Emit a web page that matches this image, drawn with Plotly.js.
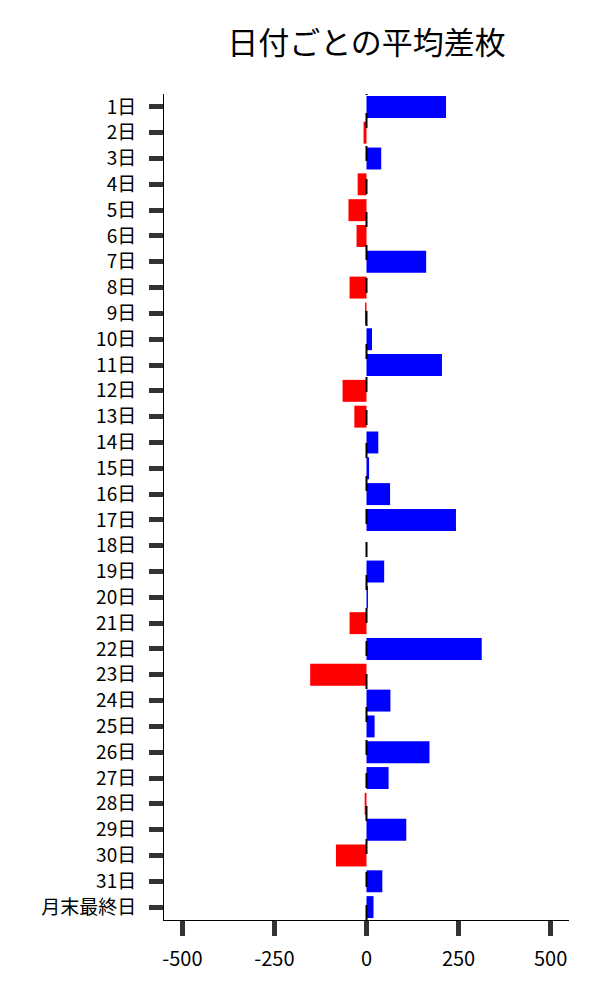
<!DOCTYPE html>
<html>
<head>
<meta charset="utf-8">
<script src="https://cdn.plot.ly/plotly-3.0.1.min.js"></script>
<style>html,body{margin:0;padding:0;background:#fff;}#chart{width:600px;height:1000px;}</style>
</head>
<body>
<div id="chart"></div>
<script>
const categories = ["1日","2日","3日","4日","5日","6日","7日","8日","9日","10日","11日","12日","13日","14日","15日","16日","17日","18日","19日","20日","21日","22日","23日","24日","25日","26日","27日","28日","29日","30日","31日","月末最終日"];
const avgDiff = [216,-8,40,-24,-49,-27,162,-46,-4,15,205,-65,-33,32,7,64,243,0,48,4,-46,313,-153,65,22,171,60,-5,108,-83,43,19];
const xTickVals = [-500,-250,0,250,500];
const xTickText = ["-500","-250","0","250","500"];

const barColors = avgDiff.map(v => v >= 0 ? "#0000ff" : "#ff0000");
const font = "Noto Sans CJK JP, Noto Sans, sans-serif";

const trace = {
  type: "bar",
  orientation: "h",
  x: avgDiff,
  y: categories,
  marker: {color: barColors, line: {width: 0}},
  hoverinfo: "x+y"
};

const layout = {
  width: 600, height: 1000,
  margin: {l: 164, r: 31, t: 94, b: 80},
  paper_bgcolor: "#fff", plot_bgcolor: "#fff",
  showlegend: false,
  bargap: 0.15,
  title: {text: "日付ごとの平均差枚", x: 0.5, xref: "paper", y: 0.957, yref: "container", yanchor: "middle",
          font: {family: font, size: 31, color: "#000"}},
  font: {family: font, color: "#000"},
  xaxis: {
    range: [-550, 550],
    tickvals: xTickVals, ticktext: xTickText,
    ticks: "outside", ticklen: 15, tickwidth: 5, tickcolor: "#333",
    ticklabelstandoff: 6,
    showline: true, linecolor: "#000", linewidth: 1,
    showgrid: false, zeroline: false,
    tickfont: {family: font, size: 20, color: "#000"}
  },
  yaxis: {
    type: "category",
    autorange: "reversed",
    ticks: "outside", ticklen: 14, tickwidth: 5, tickcolor: "#333",
    ticklabelstandoff: 9,
    showline: true, linecolor: "#000", linewidth: 1,
    showgrid: false, zeroline: false,
    tickfont: {family: font, size: 19, color: "#000"}
  },
  shapes: [{
    type: "line", xref: "x", yref: "paper", x0: 0, x1: 0, y0: 0, y1: 1,
    line: {color: "#000", width: 2, dash: "15px,18px"}
  }]
};

Plotly.newPlot("chart", [trace], layout, {displayModeBar: false, staticPlot: true});
</script>
</body>
</html>
